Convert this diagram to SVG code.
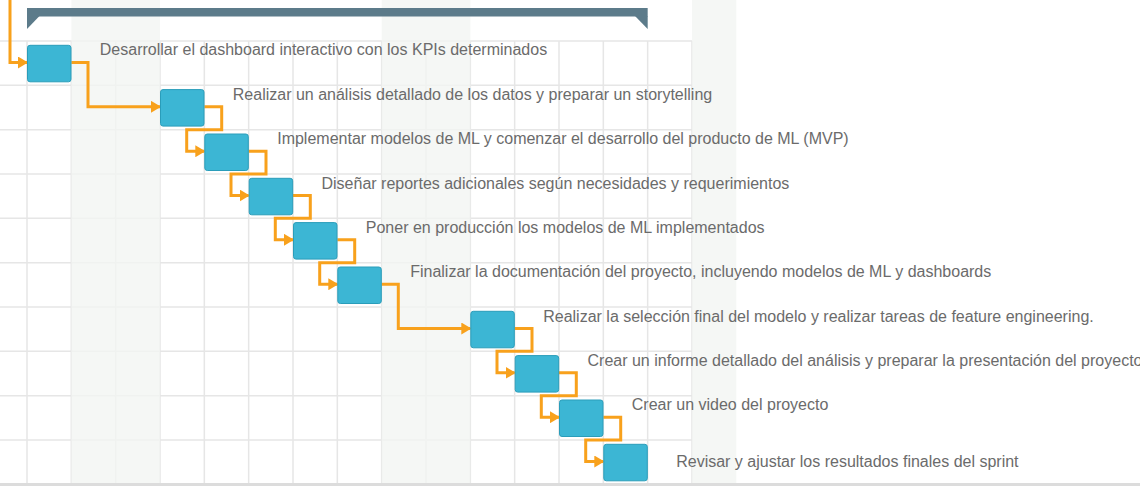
<svg xmlns="http://www.w3.org/2000/svg" width="1140" height="486" viewBox="0 0 1140 486">
<style>
.g{stroke:#e6e6e6;stroke-width:1.5;fill:none}
.sh{fill:#f3f5f3;opacity:0.8}
.bar{fill:#3cb6d4;stroke:#2a9dba;stroke-width:1}
.c{fill:none;stroke:#f8a11c;stroke-width:3;stroke-linejoin:miter;marker-end:url(#ah)}
.t{font-family:"Liberation Sans",Arial,sans-serif;font-size:16px;fill:#6b6b6b}
.sum{fill:#5c7b8a}
</style>
<defs>
<marker id="ah" viewBox="0 0 10 12" refX="9" refY="6" markerWidth="10" markerHeight="12" markerUnits="userSpaceOnUse" orient="auto">
<path d="M0,0 L10,6 L0,12 z" fill="#f8a11c"/>
</marker>
</defs>
<rect x="0" y="0" width="1140" height="486" fill="#ffffff"/>
<g id="grid">
<path class="g" d="M0,41H692M0,85.33H692M0,129.67H692M0,174H692M0,218.33H692M0,262.67H692M0,307H692M0,351.33H692M0,395.67H692M0,440H692"/>
<path class="g" d="M27,41V484M71.33,41V484M115.67,41V484M160,41V484M204.33,41V484M248.67,41V484M293,41V484M337.33,41V484M381.67,41V484M426,41V484M470.33,41V484M514.67,41V484M559,41V484M603.33,41V484M647.67,41V484M692,41V484"/>
<rect class="sh" x="71.33" y="0" width="88.67" height="484"/>
<rect class="sh" x="381.67" y="0" width="88.67" height="484"/>
<rect class="sh" x="692" y="0" width="44.33" height="484"/>
<rect x="0" y="483" width="1140" height="3" fill="#dcdcdc"/>
</g>
<g id="summary">
<rect class="sum" x="27" y="8" width="620.67" height="8.5"/>
<path class="sum" d="M27,16 H39.5 L27,29 z"/>
<path class="sum" d="M647.67,16 H635 L647.67,29 z"/>
</g>
<g id="connectors">
<path class="c" d="M10,0 V62.5 H27"/>
<path class="c" d="M71.33,62.5 H88 V106.8 H160"/>
<path class="c" d="M204.33,106.8 H221.7 V129.67 H186.7 V151.2 H204.33"/>
<path class="c" d="M248.67,151.2 H266 V174 H231 V195.5 H248.67"/>
<path class="c" d="M293,195.5 H310.3 V218.33 H275.3 V239.8 H293"/>
<path class="c" d="M337.33,239.8 H354.7 V262.67 H319.7 V284.2 H337.33"/>
<path class="c" d="M381.67,284.2 H398.3 V328.5 H470.33"/>
<path class="c" d="M514.67,328.5 H532 V351.33 H497 V372.8 H514.67"/>
<path class="c" d="M559,372.8 H576.3 V395.67 H541.3 V417.2 H559"/>
<path class="c" d="M603.33,417.2 H620.7 V440 H585.7 V461.5 H603.33"/>
</g>
<g id="task1"><rect class="bar" x="27.5" y="45.3" width="43.5" height="36.5" rx="2.5"/><text class="t" x="99.8" y="54.7">Desarrollar el dashboard interactivo con los KPIs determinados</text></g>
<g id="task2"><rect class="bar" x="160.5" y="89.6" width="43.5" height="36.5" rx="2.5"/><text class="t" x="232.8" y="100.3">Realizar un análisis detallado de los datos y preparar un storytelling</text></g>
<g id="task3"><rect class="bar" x="204.8" y="134" width="43.5" height="36.5" rx="2.5"/><text class="t" x="277.2" y="144.4">Implementar modelos de ML y comenzar el desarrollo del producto de ML (MVP)</text></g>
<g id="task4"><rect class="bar" x="249.2" y="178.3" width="43.5" height="36.5" rx="2.5"/><text class="t" x="321.5" y="189">Diseñar reportes adicionales según necesidades y requerimientos</text></g>
<g id="task5"><rect class="bar" x="293.5" y="222.6" width="43.5" height="36.5" rx="2.5"/><text class="t" x="365.8" y="233">Poner en producción los modelos de ML implementados</text></g>
<g id="task6"><rect class="bar" x="337.8" y="267" width="43.5" height="36.5" rx="2.5"/><text class="t" x="410.2" y="277.3">Finalizar la documentación del proyecto, incluyendo modelos de ML y dashboards</text></g>
<g id="task7"><rect class="bar" x="470.8" y="311.3" width="43.5" height="36.5" rx="2.5"/><text class="t" x="543.2" y="321.7">Realizar la selección final del modelo y realizar tareas de feature engineering.</text></g>
<g id="task8"><rect class="bar" x="515.2" y="355.6" width="43.5" height="36.5" rx="2.5"/><text class="t" x="587.5" y="366">Crear un informe detallado del análisis y preparar la presentación del proyecto</text></g>
<g id="task9"><rect class="bar" x="559.5" y="400" width="43.5" height="36.5" rx="2.5"/><text class="t" x="631.8" y="410.3">Crear un video del proyecto</text></g>
<g id="task10"><rect class="bar" x="603.8" y="444.3" width="43.5" height="36.5" rx="2.5"/><text class="t" x="676.2" y="466.7">Revisar y ajustar los resultados finales del sprint</text></g>
</svg>
